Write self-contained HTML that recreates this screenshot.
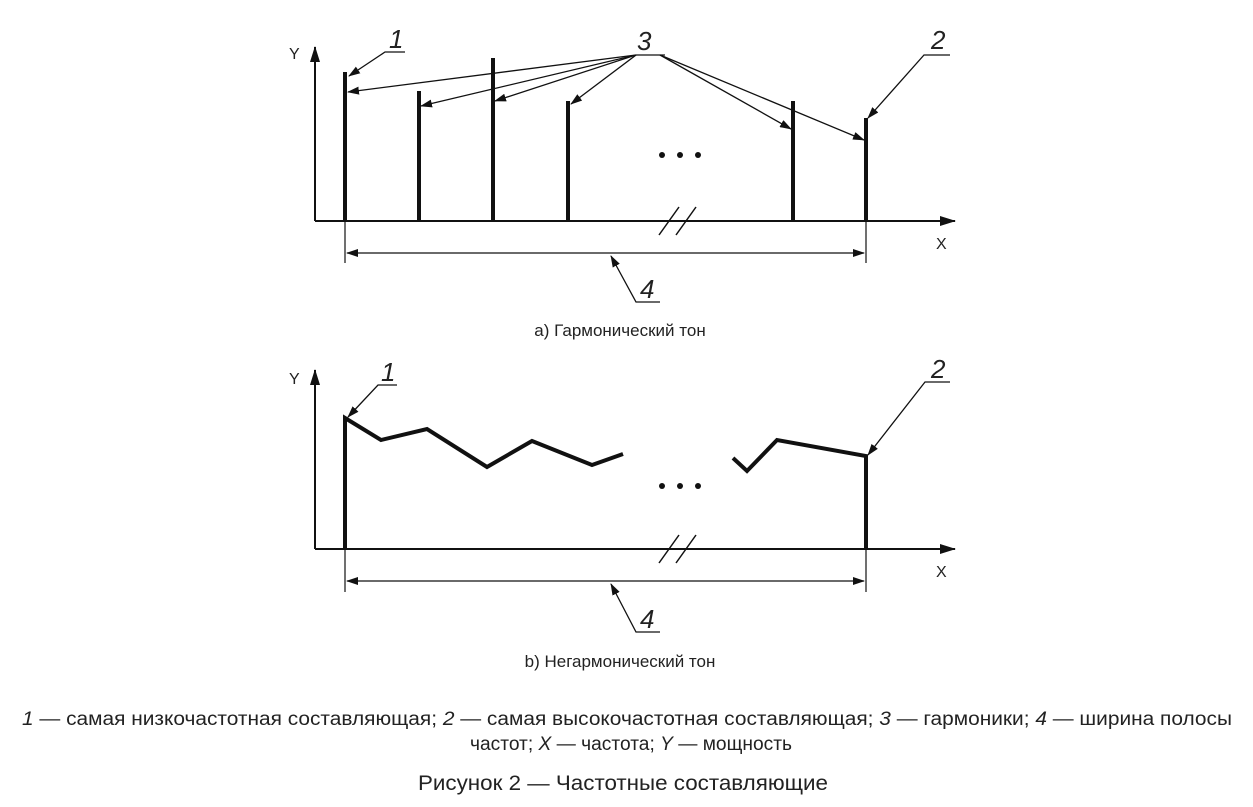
<!DOCTYPE html>
<html><head><meta charset="utf-8"><style>
html,body{margin:0;padding:0;background:#fff;}
svg{display:block;}
text{font-family:"Liberation Sans",sans-serif;fill:#222;}
.n{font-family:"Liberation Sans Narrow","Liberation Sans",sans-serif;}
</style></head><body>
<svg width="1253" height="807" viewBox="0 0 1253 807" xmlns="http://www.w3.org/2000/svg">
<defs>
<marker id="a" markerWidth="12" markerHeight="8" refX="11" refY="4" orient="auto-start-reverse" markerUnits="userSpaceOnUse"><path d="M0,0 L12,4 L0,8 Z" fill="#111"/></marker>
<marker id="b" markerWidth="16" markerHeight="10" refX="15" refY="5" orient="auto" markerUnits="userSpaceOnUse"><path d="M0,0 L16,5 L0,10 Z" fill="#111"/></marker>
</defs>
<g stroke="#111" fill="none">
<line x1="315" y1="221" x2="315" y2="47" stroke-width="2" marker-end="url(#b)"/>
<line x1="315" y1="221" x2="955" y2="221" stroke-width="2" marker-end="url(#b)"/>
<g stroke-width="4">
<line x1="345" y1="221" x2="345" y2="72"/>
<line x1="419" y1="221" x2="419" y2="91"/>
<line x1="493" y1="221" x2="493" y2="58"/>
<line x1="568" y1="221" x2="568" y2="101"/>
<line x1="793" y1="221" x2="793" y2="101"/>
<line x1="866" y1="221" x2="866" y2="118"/>
</g>
<line x1="659" y1="235" x2="679" y2="207" stroke-width="1.5"/>
<line x1="676" y1="235" x2="696" y2="207" stroke-width="1.5"/>
<line x1="345" y1="221" x2="345" y2="263" stroke-width="1.2"/>
<line x1="866" y1="221" x2="866" y2="263" stroke-width="1.2"/>
<line x1="347" y1="253" x2="864" y2="253" stroke-width="1.2" marker-start="url(#a)" marker-end="url(#a)"/>
<g stroke-width="1.3">
<polyline points="405,52 385,52 349,76" marker-end="url(#a)"/>
<line x1="665" y1="55" x2="636" y2="55"/>
<line x1="636" y1="55" x2="348" y2="92" marker-end="url(#a)"/>
<line x1="636" y1="55" x2="421" y2="106" marker-end="url(#a)"/>
<line x1="636" y1="55" x2="495" y2="101" marker-end="url(#a)"/>
<line x1="636" y1="55" x2="571" y2="104" marker-end="url(#a)"/>
<line x1="660" y1="55" x2="791" y2="129" marker-end="url(#a)"/>
<line x1="660" y1="55" x2="864" y2="140" marker-end="url(#a)"/>
<polyline points="950,55 924,55 868,118" marker-end="url(#a)"/>
<polyline points="660,302 636,302 611,256" marker-end="url(#a)"/>
</g>
<line x1="315" y1="549" x2="315" y2="370" stroke-width="2" marker-end="url(#b)"/>
<line x1="315" y1="549" x2="955" y2="549" stroke-width="2" marker-end="url(#b)"/>
<polyline points="345,549 345,418 381,440 427,429 487,467 532,441 592,465 623,454" stroke-width="4" stroke-linejoin="miter"/>
<polyline points="733,458 747,471 777,440 866,456 866,549" stroke-width="4"/>
<line x1="659" y1="563" x2="679" y2="535" stroke-width="1.5"/>
<line x1="676" y1="563" x2="696" y2="535" stroke-width="1.5"/>
<line x1="345" y1="549" x2="345" y2="592" stroke-width="1.2"/>
<line x1="866" y1="549" x2="866" y2="592" stroke-width="1.2"/>
<line x1="347" y1="581" x2="864" y2="581" stroke-width="1.2" marker-start="url(#a)" marker-end="url(#a)"/>
<g stroke-width="1.3">
<polyline points="397,385 378,385 348,417" marker-end="url(#a)"/>
<polyline points="950,382 925,382 868,455" marker-end="url(#a)"/>
<polyline points="660,632 636,632 611,584" marker-end="url(#a)"/>
</g>
</g>
<g fill="#111">
<circle cx="662" cy="155" r="3"/><circle cx="680" cy="155" r="3"/><circle cx="698" cy="155" r="3"/>
<circle cx="662" cy="486" r="3"/><circle cx="680" cy="486" r="3"/><circle cx="698" cy="486" r="3"/>
</g>
<g font-size="26" font-style="italic">
<text x="389" y="48">1</text>
<text x="637" y="50">3</text>
<text x="931" y="49">2</text>
<text x="640" y="298">4</text>
<text x="381" y="381">1</text>
<text x="931" y="378">2</text>
<text x="640" y="628">4</text>
</g>
<g font-size="16">
<text x="289" y="59">Y</text>
<text x="936" y="249">X</text>
<text x="289" y="384">Y</text>
<text x="936" y="577">X</text>
</g>
<text x="620" y="336" font-size="17" text-anchor="middle">а) Гармонический тон</text>
<text x="620" y="667" font-size="17" text-anchor="middle">b) Негармонический тон</text>
<text class="n" x="22" y="725" font-size="19" textLength="1210" lengthAdjust="spacingAndGlyphs"><tspan font-style="italic">1</tspan> — самая низкочастотная составляющая; <tspan font-style="italic">2</tspan> — самая высокочастотная составляющая; <tspan font-style="italic">3</tspan> — гармоники; <tspan font-style="italic">4</tspan> — ширина полосы</text>
<text class="n" x="470" y="750" font-size="19" textLength="322" lengthAdjust="spacingAndGlyphs">частот; <tspan font-style="italic">X</tspan> — частота; <tspan font-style="italic">Y</tspan> — мощность</text>
<text class="n" x="418" y="790" font-size="21" textLength="410" lengthAdjust="spacingAndGlyphs">Рисунок 2 — Частотные составляющие</text>
</svg>
</body></html>
